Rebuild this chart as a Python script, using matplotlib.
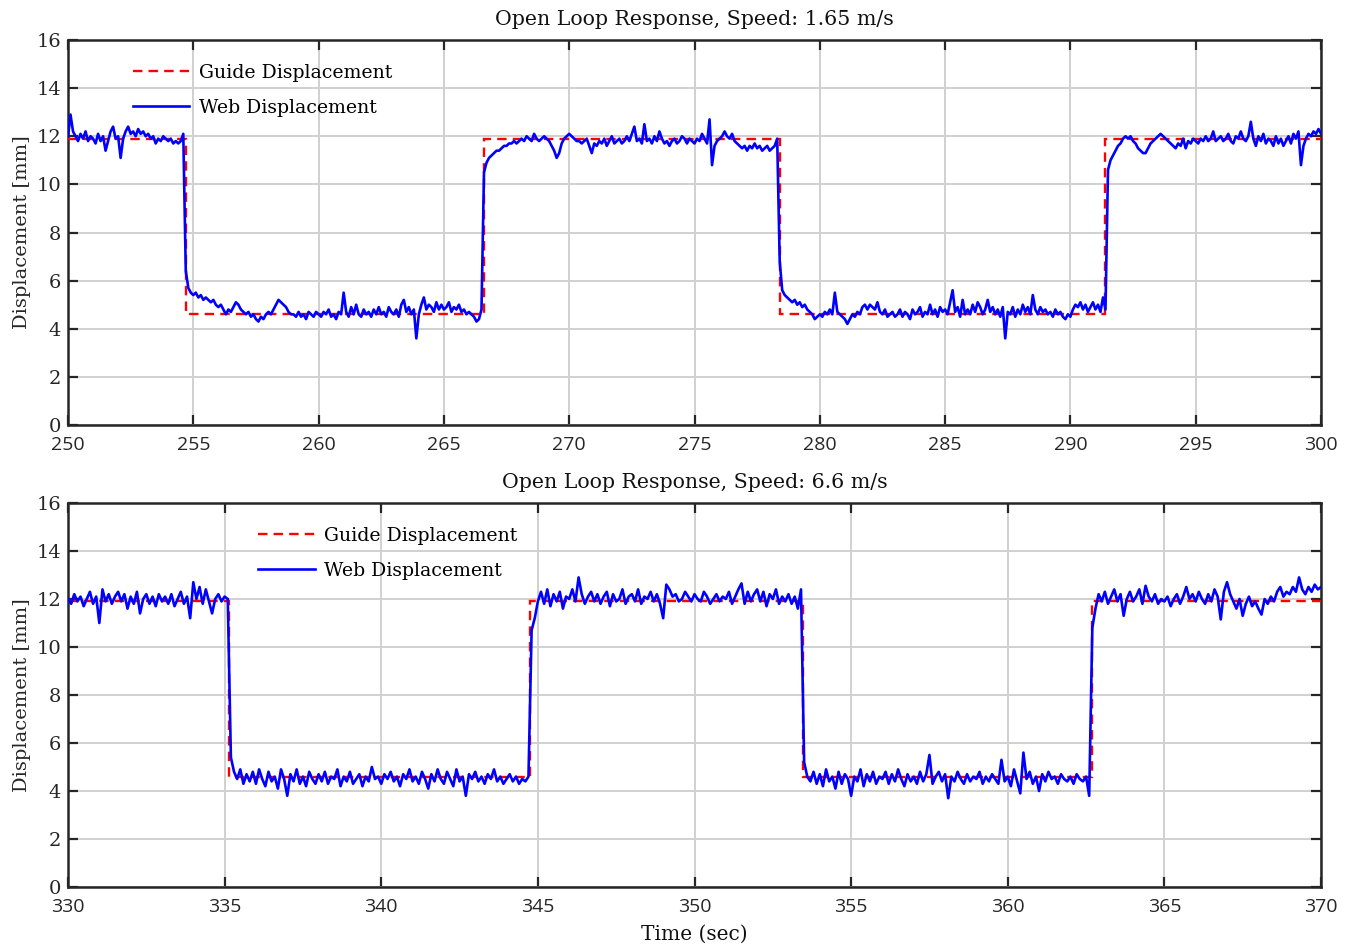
import numpy as np
import matplotlib
matplotlib.use("Agg")
import matplotlib.pyplot as plt

# ---------------- data ----------------
# Top panel (speed 1.65 m/s): web displacement sampled every 0.1 s from 250 to 300 s
top_t_start, top_t_end, top_dt = 250.0, 300.0, 0.1
top_web = [
    12.0, 12.9, 12.2, 12.0, 11.8, 12.1, 11.9, 12.2, 11.8, 12.0,
    11.9, 11.7, 12.1, 11.8, 12.0, 11.4, 11.8, 12.2, 12.4, 11.9,
    12.0, 11.1, 11.9, 12.2, 12.4, 12.1, 12.2, 12.0, 12.3, 12.1,
    12.2, 12.0, 12.1, 11.9, 12.0, 11.7, 11.9, 11.8, 12.0, 11.9,
    11.8, 11.9, 11.7, 11.8, 11.7, 11.8, 12.1, 6.4, 5.7, 5.5,
    5.4, 5.5, 5.3, 5.4, 5.2, 5.3, 5.2, 5.1, 5.2, 5.0,
    4.9, 5.0, 4.8, 4.6, 4.8, 4.7, 4.9, 5.1, 5.0, 4.8,
    4.7, 4.6, 4.7, 4.5, 4.6, 4.4, 4.3, 4.5, 4.4, 4.6,
    4.7, 4.6, 4.8, 5.0, 5.2, 5.1, 5.0, 4.9, 4.7, 4.6,
    4.6, 4.5, 4.7, 4.5, 4.6, 4.4, 4.7, 4.6, 4.5, 4.7,
    4.6, 4.5, 4.7, 4.6, 4.8, 4.5, 4.6, 4.4, 4.7, 4.6,
    5.5, 4.7, 4.5, 4.9, 4.6, 5.0, 4.6, 4.5, 4.8, 4.6,
    4.7, 4.5, 4.8, 4.6, 4.9, 4.6, 4.7, 4.5, 4.9, 4.7,
    4.6, 4.8, 4.5, 5.0, 5.2, 4.7, 4.9, 4.6, 4.8, 3.6,
    4.6, 5.0, 5.3, 4.8, 5.0, 4.9, 4.7, 5.1, 4.8, 5.0,
    4.8, 4.9, 5.1, 4.7, 4.9, 4.8, 5.0, 4.7, 4.8, 4.6,
    4.7, 4.6, 4.5, 4.3, 4.4, 4.8, 10.5, 10.9, 11.1, 11.2,
    11.3, 11.4, 11.4, 11.5, 11.6, 11.6, 11.7, 11.7, 11.8, 11.7,
    11.8, 11.9, 11.8, 12.0, 11.9, 11.8, 12.1, 11.9, 11.8, 11.9,
    12.0, 11.9, 11.8, 11.6, 11.4, 11.1, 11.3, 11.7, 11.9, 12.0,
    12.1, 12.0, 11.9, 11.8, 11.8, 11.7, 11.8, 11.9, 11.6, 11.3,
    11.7, 11.6, 11.8, 11.7, 11.9, 11.6, 11.8, 12.0, 11.7, 11.8,
    11.9, 11.7, 11.8, 12.0, 11.8, 12.1, 12.4, 11.8, 11.9, 11.7,
    12.5, 11.8, 11.9, 11.7, 12.0, 11.8, 12.2, 11.9, 11.7, 11.8,
    11.6, 11.8, 11.9, 11.7, 11.8, 12.0, 11.9, 11.7, 11.9, 11.8,
    11.7, 11.9, 11.8, 12.1, 11.9, 11.7, 12.7, 10.8, 11.6, 11.8,
    11.9, 12.0, 12.2, 12.0, 11.9, 12.1, 11.8, 11.7, 11.6, 11.5,
    11.6, 11.4, 11.6, 11.5, 11.7, 11.5, 11.6, 11.4, 11.5, 11.6,
    11.4, 11.5, 11.6, 11.9, 6.8, 5.6, 5.4, 5.3, 5.2, 5.1,
    5.2, 5.0, 5.1, 4.9, 5.0, 4.8, 4.7, 4.6, 4.4, 4.5,
    4.6, 4.5, 4.7, 4.6, 4.8, 4.6, 5.5, 4.7, 4.6, 4.5,
    4.4, 4.2, 4.4, 4.6, 4.5, 4.7, 4.6, 4.9, 5.0, 4.8,
    5.0, 4.9, 4.8, 5.1, 4.7, 4.6, 4.8, 4.5, 4.6, 4.7,
    4.5, 4.6, 4.8, 4.5, 4.7, 4.6, 4.4, 4.8, 4.6, 4.7,
    4.9, 4.5, 4.7, 4.6, 5.0, 4.6, 4.8, 4.5, 4.9, 4.7,
    4.8, 4.6, 5.1, 5.6, 4.7, 4.9, 4.5, 5.2, 4.6, 4.8,
    4.6, 5.0, 4.7, 5.1, 4.9, 4.6, 4.8, 5.2, 4.7, 4.9,
    4.6, 4.8, 4.5, 4.9, 3.6, 4.7, 4.6, 4.9, 4.5, 4.8,
    4.6, 5.0, 4.7, 4.9, 4.6, 5.4, 4.8, 4.6, 4.9, 4.7,
    4.8, 4.6, 4.7, 4.5, 4.8, 4.6, 4.7, 4.5, 4.4, 4.6,
    4.5, 4.8, 5.0, 4.9, 5.1, 4.8, 5.0, 4.7, 4.9, 5.1,
    4.8, 5.0, 4.7, 5.3, 4.8, 10.6, 11.0, 11.2, 11.4, 11.6,
    11.7, 11.9, 12.0, 11.9, 12.0, 11.8, 11.7, 11.5, 11.4, 11.3,
    11.3, 11.5, 11.7, 11.8, 11.9, 12.0, 12.1, 12.0, 11.9, 11.8,
    11.7, 11.6, 11.5, 11.7, 11.6, 11.9, 11.5, 11.8, 11.7, 11.9,
    11.8, 11.7, 11.9, 11.8, 12.0, 11.8, 11.9, 12.2, 11.8, 11.9,
    12.0, 11.8, 11.9, 12.1, 11.8, 11.7, 12.0, 11.9, 12.2, 11.9,
    11.8, 12.0, 12.6, 11.9, 11.6, 12.0, 11.8, 12.1, 11.7, 11.9,
    11.8, 11.6, 12.0, 11.7, 11.9, 11.6, 11.8, 12.0, 11.7, 12.1,
    11.9, 12.2, 10.8, 11.6, 11.9, 12.1, 12.0, 12.2, 12.1, 12.3,
    12.1,
]
top_guide_edges = [250.0, 254.7, 266.6, 278.4, 291.4, 300.0]
top_guide_values = [11.9, 4.6, 11.9, 4.6, 11.9]

# Bottom panel (speed 6.6 m/s): web displacement sampled every 0.1 s from 330 to 370 s
bot_t_start, bot_t_end, bot_dt = 330.0, 370.0, 0.1
bot_web = [
    12.0, 11.8, 12.2, 11.9, 12.1, 11.7, 12.0, 12.3, 11.8, 12.1,
    11.0, 12.4, 11.9, 12.2, 11.8, 12.1, 12.3, 11.9, 12.2, 11.6,
    12.1, 11.8, 12.3, 11.4, 12.0, 12.2, 11.8, 12.1, 11.7, 12.2,
    11.9, 12.1, 11.8, 12.2, 11.7, 12.0, 12.3, 11.8, 12.1, 11.2,
    12.7, 12.0, 12.5, 11.8, 12.4, 11.9, 11.4, 12.0, 12.2, 11.9,
    12.1, 12.0, 5.4, 4.8, 4.5, 4.9, 4.3, 4.7, 4.4, 4.8,
    4.3, 4.9, 4.5, 4.2, 4.8, 4.4, 4.6, 4.1, 4.9, 4.5,
    3.8, 4.7, 4.4, 4.9, 4.3, 4.6, 4.2, 4.8, 4.5, 4.3,
    4.7, 4.4, 4.8, 4.3, 4.6, 4.5, 4.9, 4.2, 4.6, 4.4,
    4.8, 4.3, 4.5, 4.7, 4.2, 4.6, 4.4, 5.0, 4.5, 4.6,
    4.3, 4.7, 4.5, 4.8, 4.4, 4.6, 4.2, 4.7, 4.5, 4.9,
    4.4, 4.6, 4.3, 4.8, 4.5, 4.1, 4.7, 4.4, 4.9, 4.5,
    4.3, 4.8, 4.5, 4.2, 4.9, 4.4, 4.6, 3.8, 4.7, 4.5,
    4.8, 4.4, 4.6, 4.3, 4.7, 4.5, 4.9, 4.4, 4.6, 4.3,
    4.5, 4.7, 4.4, 4.6, 4.3, 4.5, 4.4, 4.6, 10.7, 11.2,
    11.9, 12.3, 11.8, 12.4, 11.7, 12.2, 11.9, 12.3, 11.6, 12.1,
    12.0, 12.4, 11.9, 12.9, 12.2, 11.8, 12.1, 12.3, 11.9, 12.2,
    11.8, 12.1, 12.3, 11.7, 12.2, 11.9, 12.0, 12.4, 11.8, 12.1,
    12.2, 11.9, 12.4, 11.8, 12.1, 12.0, 12.3, 11.9, 12.2, 11.8,
    11.2, 12.6, 12.4, 12.1, 12.2, 11.9, 12.0, 12.3, 12.1, 11.9,
    12.2, 12.0, 11.9, 12.3, 12.1, 11.8, 12.0, 12.2, 11.9, 12.1,
    12.0, 12.3, 11.8, 12.1, 12.4, 12.65, 11.8, 12.3, 11.9, 12.2,
    12.4, 11.9, 12.3, 11.7, 12.2, 12.0, 12.4, 11.8, 12.1, 11.9,
    12.2, 11.8, 12.1, 11.6, 12.4, 5.2, 4.6, 4.4, 4.8, 4.3,
    4.7, 4.2, 4.9, 4.4, 4.6, 4.1, 4.8, 4.3, 4.7, 4.5,
    3.8, 4.6, 4.4, 4.9, 4.2, 4.7, 4.4, 4.8, 4.3, 4.6,
    4.5, 4.8, 4.3, 4.7, 4.4, 4.9, 4.5, 4.2, 4.7, 4.4,
    4.6, 4.3, 4.8, 4.4, 4.7, 5.5, 4.3, 4.6, 4.8, 4.4,
    4.7, 3.7, 4.6, 4.4, 4.8, 4.5, 4.3, 4.7, 4.4, 4.6,
    4.5, 4.8, 4.3, 4.6, 4.4, 4.7, 4.5, 4.3, 5.3, 4.4,
    4.6, 4.2, 4.9, 4.4, 3.9, 5.6, 4.5, 4.8, 4.3, 4.6,
    4.0, 4.7, 4.4, 4.8, 4.5, 4.6, 4.3, 4.7, 4.5, 4.4,
    4.6, 4.3, 4.7, 4.5, 4.4, 4.6, 3.8, 10.8, 11.6, 12.2,
    11.9, 12.3, 11.8, 12.1, 12.4, 11.9, 12.2, 11.3, 12.0, 12.3,
    11.9, 12.1, 12.4, 11.8, 12.55, 12.1, 11.9, 12.2, 11.8, 12.0,
    11.9, 12.1, 11.7, 12.0, 12.2, 11.8, 12.1, 12.5, 12.0, 12.2,
    11.9, 12.3, 12.0, 11.8, 12.2, 11.9, 12.4, 12.1, 11.15, 12.3,
    12.7, 12.2, 11.9, 11.6, 12.0, 11.3, 11.8, 12.1, 11.7, 11.9,
    11.6, 11.35, 12.0, 11.8, 12.1, 11.9, 12.3, 12.5, 12.1, 12.3,
    12.2, 12.5, 12.3, 12.9, 12.4, 12.2, 12.5, 12.3, 12.6, 12.4,
    12.5,
]
bot_guide_edges = [330.0, 335.15, 344.75, 353.45, 362.68, 370.0]
bot_guide_values = [11.9, 4.6, 11.9, 4.6, 11.9]

titles = ["Open Loop Response, Speed: 1.65 m/s", "Open Loop Response, Speed: 6.6 m/s"]
top_xticks = list(range(250, 301, 5))
bot_xticks = list(range(330, 371, 5))
yticks = list(range(0, 17, 2))

# ---------------- plotting ----------------
SERIF = ["DejaVu Serif"]
SANS = ["Open Sans", "DejaVu Sans"]

fig = plt.figure(figsize=(13.51, 9.49), dpi=100)
ax1 = fig.add_axes([68 / 1351, 1 - 425 / 949, 1253 / 1351, 385 / 949])
ax2 = fig.add_axes([68 / 1351, 1 - 887 / 949, 1253 / 1351, 384 / 949])

panels = [
    (ax1, top_t_start, top_t_end, top_dt, top_web, top_guide_edges, top_guide_values,
     titles[0], top_xticks, (0.038, 0.982)),
    (ax2, bot_t_start, bot_t_end, bot_dt, bot_web, bot_guide_edges, bot_guide_values,
     titles[1], bot_xticks, (0.138, 0.982)),
]

for ax, t0, t1, dt, web, gedges, gvals, title, xt, leg_anchor in panels:
    t = np.round(np.arange(len(web)) * dt + t0, 3)
    ax.stairs(gvals, gedges, baseline=None, color="red", linestyle=(0, (4, 2.6)),
              linewidth=1.7, label="Guide Displacement", zorder=3)
    ax.plot(t, web, color="blue", linewidth=1.9, label="Web Displacement", zorder=4)
    ax.set_xlim(t0, t1)
    ax.set_ylim(0, 16)
    ax.set_xticks(xt)
    ax.set_yticks(yticks)
    ax.grid(True, color="#d0d0d0", linewidth=1.4)
    ax.set_axisbelow(True)
    for sp in ax.spines.values():
        sp.set_linewidth(1.8)
        sp.set_color("#262626")
    ax.tick_params(direction="in", length=7, width=1.6, color="#262626",
                   top=True, right=True)
    ax.tick_params(axis="x", pad=8)
    ax.tick_params(axis="y", pad=5)
    for lab in ax.get_xticklabels():
        lab.set_fontfamily(SANS)
        lab.set_fontsize(14)
        lab.set_color("#262626")
    for lab in ax.get_yticklabels():
        lab.set_fontfamily(SERIF)
        lab.set_fontsize(14)
        lab.set_color("#262626")
    ax.set_title(title, fontfamily=SERIF, fontsize=14.8, color="#111111", pad=11)
    ax.set_ylabel("Displacement [mm]", fontfamily=SERIF, fontsize=14,
                  color="#262626", labelpad=4)
    leg = ax.legend(loc="upper left", bbox_to_anchor=leg_anchor, frameon=False,
                    prop={"family": SERIF, "size": 13.6}, handlelength=3.0,
                    handletextpad=0.5, labelspacing=0.9)

ax2.set_xlabel("Time (sec)", fontfamily=SERIF, fontsize=14.5, color="#111111", labelpad=6)

fig.savefig("out.png", dpi=100)
